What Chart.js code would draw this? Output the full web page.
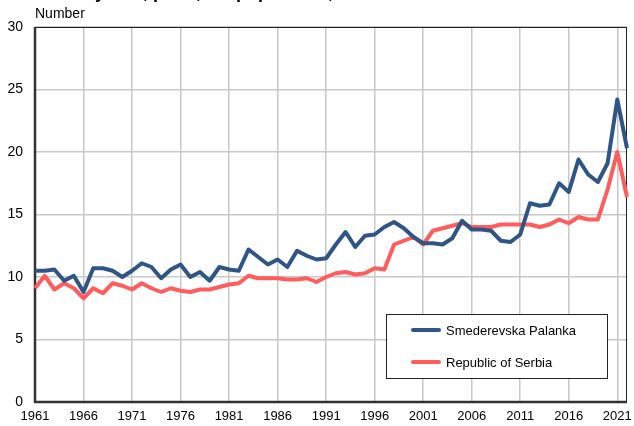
<!DOCTYPE html>
<html>
<head>
<meta charset="utf-8">
<script src="https://cdn.jsdelivr.net/npm/chart.js@4.4.1/dist/chart.umd.min.js"></script>
<style>
  html, body { margin: 0; padding: 0; background: #fff; }
  #wrap { position: relative; width: 634px; height: 426px; overflow: hidden; }
</style>
</head>
<body>
<div id="wrap"><canvas id="chart" width="634" height="426"></canvas></div>
<script>
// years 1961..2022
const years = [];
for (let y = 1961; y <= 2022; y++) years.push(String(y));

const palanka = [
  10.5, 10.5, 10.6, 9.7, 10.1, 8.8, 10.7, 10.7, 10.5, 10.0,
  10.5, 11.1, 10.8, 9.9, 10.6, 11.0, 10.0, 10.4, 9.7, 10.8,
  10.6, 10.5, 12.2, 11.6, 11.0, 11.4, 10.8, 12.1, 11.7, 11.4,
  11.5, 12.6, 13.6, 12.4, 13.3, 13.4, 14.0, 14.4, 13.9, 13.2,
  12.7, 12.7, 12.6, 13.1, 14.5, 13.8, 13.8, 13.7, 12.9, 12.8,
  13.4, 15.9, 15.7, 15.8, 17.5, 16.8, 19.4, 18.2, 17.6, 19.1,
  24.2, 20.3
];
const serbia = [
  9.1, 10.1, 9.0, 9.5, 9.1, 8.3, 9.1, 8.7, 9.5, 9.3,
  9.0, 9.5, 9.1, 8.8, 9.1, 8.9, 8.8, 9.0, 9.0, 9.2,
  9.4, 9.5, 10.1, 9.9, 9.9, 9.9, 9.8, 9.8, 9.9, 9.6,
  10.0, 10.3, 10.4, 10.2, 10.3, 10.7, 10.6, 12.6, 12.9, 13.2,
  12.6, 13.7, 13.9, 14.1, 14.3, 14.0, 14.0, 14.0, 14.2, 14.2,
  14.2, 14.2, 14.0, 14.2, 14.6, 14.3, 14.8, 14.6, 14.6, 17.0,
  20.0, 16.4
];
const seriesNames = ['Smederevska Palanka', 'Republic of Serbia'];
const seriesColors = ['#2f5586', '#ff5c5c'];

const FONT = 'Arial, "Liberation Sans", sans-serif';

// frame, axis title, clipped main title, legend
const extras = {
  id: 'extras',
  beforeDatasetsDraw(chart) {
    const { ctx, chartArea: a } = chart;
    ctx.save();
    ctx.strokeStyle = '#222';
    ctx.lineWidth = 1;
    ctx.strokeRect(a.left + 0.5, a.top + 0.5, a.right - a.left - 1, a.bottom - a.top - 1);
    ctx.strokeStyle = '#333';
    ctx.lineWidth = 2.5;
    ctx.beginPath();
    ctx.moveTo(a.left, a.top);
    ctx.lineTo(a.left, a.bottom);
    ctx.lineTo(a.right, a.bottom);
    ctx.stroke();
    ctx.restore();
  },
  afterDraw(chart) {
    const { ctx } = chart;
    ctx.save();
    ctx.fillStyle = '#000';
    ctx.textBaseline = 'alphabetic';
    // the main title is cut off by the top edge in the original
    ctx.font = 'bold 18px ' + FONT;
    ctx.fillText('Mortality rate, per 1,000 population, 1961–2022', 30, -2);
    ctx.font = '14px ' + FONT;
    ctx.fillText('Number', 35, 18);

    // legend
    const bx = 386, by = 314, bw = 221, bh = 64;
    ctx.fillStyle = '#fff';
    ctx.fillRect(bx, by, bw, bh);
    ctx.strokeStyle = '#222';
    ctx.lineWidth = 1;
    ctx.strokeRect(bx + 0.5, by + 0.5, bw, bh);
    ctx.font = '13px ' + FONT;
    ctx.textBaseline = 'middle';
    chart.data.datasets.forEach((ds, i) => {
      const yy = by + 16 + i * 32;
      ctx.strokeStyle = ds.borderColor;
      ctx.lineWidth = 4;
      ctx.lineCap = 'round';
      ctx.beginPath();
      ctx.moveTo(413, yy);
      ctx.lineTo(439, yy);
      ctx.stroke();
      ctx.fillStyle = '#000';
      ctx.fillText(ds.label, 446, yy + 1);
    });
    ctx.restore();
  }
};

new Chart(document.getElementById('chart'), {
  type: 'line',
  data: {
    labels: years,
    datasets: [
      { label: seriesNames[0], data: palanka, borderColor: seriesColors[0] },
      { label: seriesNames[1], data: serbia, borderColor: seriesColors[1] }
    ]
  },
  options: {
    responsive: false,
    animation: false,
    layout: { padding: { top: 27, right: 4, left: 0, bottom: 0 } },
    elements: {
      line: { borderWidth: 4, tension: 0, borderJoinStyle: 'round', borderCapStyle: 'butt' },
      point: { radius: 0 }
    },
    plugins: { legend: { display: false }, tooltip: { enabled: false } },
    scales: {
      x: {
        type: 'category',
        offset: false,
        grid: {
          color: c => (c.index % 5 === 0 ? '#c8c8c8' : 'rgba(0,0,0,0)'),
          lineWidth: 1.5,
          drawTicks: false
        },
        border: { display: false },
        ticks: {
          autoSkip: false,
          maxRotation: 0,
          padding: 7,
          color: '#000',
          font: { family: FONT, size: 13 },
          callback: (v, i) => (i % 5 === 0 ? years[i] : '')
        },
        afterFit: s => { s.height = 24; }
      },
      y: {
        min: 0,
        max: 30,
        grid: { color: '#c8c8c8', lineWidth: 1.5, drawTicks: false },
        border: { display: false },
        ticks: {
          stepSize: 5,
          padding: 12,
          color: '#000',
          font: { family: FONT, size: 14 }
        },
        afterFit: s => { s.width = 35; }
      }
    }
  },
  plugins: [extras]
});
</script>
</body>
</html>
